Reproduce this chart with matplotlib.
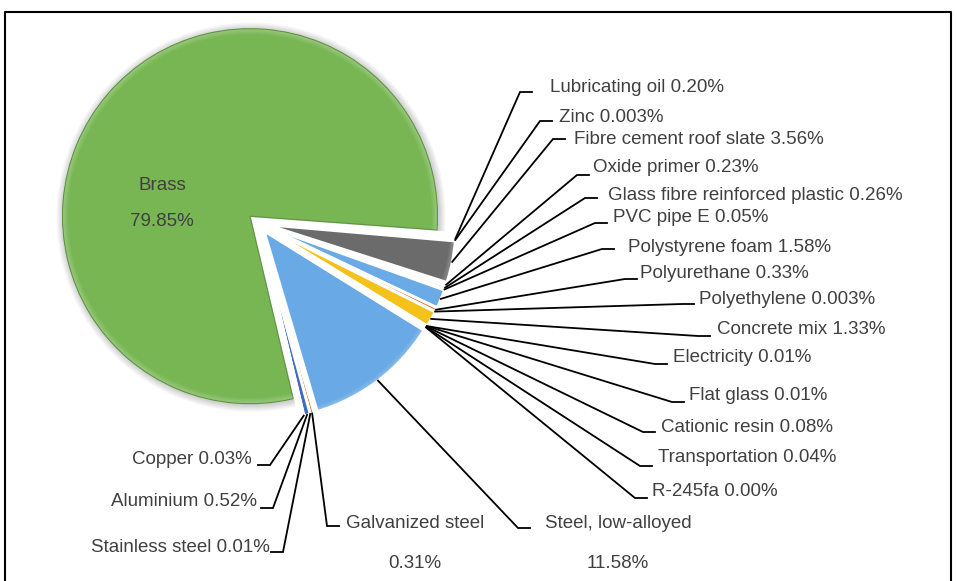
import matplotlib
matplotlib.use("Agg")
import matplotlib.pyplot as plt
import numpy as np
from matplotlib.patches import Wedge

# ---------------- data ----------------
categories = ["Brass", "Lubricating oil", "Zinc", "Fibre cement roof slate", "Oxide primer",
              "Glass fibre reinforced plastic", "PVC pipe E", "Polystyrene foam", "Polyurethane",
              "Polyethylene", "Concrete mix", "Electricity", "Flat glass", "Cationic resin",
              "Transportation", "R-245fa", "Steel, low-alloyed", "Galvanized steel",
              "Stainless steel", "Aluminium", "Copper"]
values = [79.85, 0.20, 0.003, 3.56, 0.23, 0.26, 0.05, 1.58, 0.33, 0.003, 1.33,
          0.01, 0.01, 0.08, 0.04, 0.00, 11.58, 0.31, 0.01, 0.52, 0.03]
value_labels = ["79.85%", "0.20%", "0.003%", "3.56%", "0.23%", "0.26%", "0.05%", "1.58%",
                "0.33%", "0.003%", "1.33%", "0.01%", "0.01%", "0.08%", "0.04%", "0.00%",
                "11.58%", "0.31%", "0.01%", "0.52%", "0.03%"]
colors = ["#78B653", "#D6D6D6", "#D6D6D6", "#6B6B6B", "#D9D9D9", "#DADADA", "#D6D6D6",
          "#6AAAE6", "#E07B39", "#ED7D31", "#F5C21B", "#D9D9D9", "#D9D9D9", "#D9D9D9",
          "#D9D9D9", "#D9D9D9", "#68A9E6", "#E07B39", "#A5A5A5", "#3F6CBF", "#3F6CBF"]

# ---------------- layout (pixels) ----------------
W, H = 957, 581
CX, CY, R = 258, 223, 187.5
EXPLODE = 10.5
# label text positions and leader elbows for slices 1..20
text_x = [550, 559, 574, 593, 608, 613, 628, 640, 699, 717, 673, 689, 661, 658, 652,
          618, 415, 270, 257, 252]
text_y = [88, 117, 140, 168, 195, 217, 247, 273, 300, 329, 357, 395, 427, 458, 492,
          524, 524, 548, 502, 460]
elbow_x = [520, 540, 553, 577, 585, 595, 602, 625, 682, 698, 655, 672, 643, 640, 635,
           518, 327, 283, 273, 270]
elbow_y = [92, 121, 139, 175, 198, 223, 249, 279, 304, 336, 364, 402, 432, 466, 498,
           528, 526, 552, 508, 465]
side = ["r"] * 17 + ["l"] * 3


def P(x, y):
    return x, H - y


fig = plt.figure(figsize=(W / 100, H / 100), dpi=100)
ax = fig.add_axes([0, 0, 1, 1])

explode = [EXPLODE] * len(values)
wedges, _ = ax.pie(values, colors=colors, startangle=283.3, counterclock=False,
                   center=P(CX, CY), radius=R, explode=explode,
                   wedgeprops=dict(edgecolor="white", linewidth=1.8))
wedges[0].set_edgecolor("#5E9440")
wedges[0].set_linewidth(0.8)

# soft shadow behind the brass slice
bw = wedges[0]
for k in range(8):
    sh = Wedge((bw.center[0] + 1, bw.center[1] - 1), bw.r + 1 + k * 0.9, bw.theta1, bw.theta2,
               facecolor="black", edgecolor="none", alpha=0.025, zorder=0)
    ax.add_patch(sh)
# lighter rim on big slices (bevel impression)
for i in (0, 3, 16):
    w = wedges[i]
    for k in range(5):
        rim = Wedge(w.center, w.r - 0.5, w.theta1, w.theta2, width=5 - k,
                    facecolor="white", edgecolor="none", alpha=0.05, zorder=w.get_zorder() + 0.1)
        ax.add_patch(rim)

ax.set_xlim(0, W)
ax.set_ylim(0, H)
ax.set_aspect("equal")
ax.axis("off")

font = dict(family=["Liberation Sans", "DejaVu Sans"], size=13.5, color="#404040")

# Brass label inside slice
ax.text(*P(162, 185), categories[0], ha="center", va="center", **font)
ax.text(*P(162, 222), value_labels[0], ha="center", va="center", **font)

for i in range(1, len(values)):
    w = wedges[i]
    mid = np.deg2rad((w.theta1 + w.theta2) / 2)
    cx, cy = w.center
    ax_pt = (cx + w.r * np.cos(mid), cy + w.r * np.sin(mid))
    k = i - 1
    ex, ey = P(elbow_x[k], elbow_y[k])
    seg = 12 if side[k] == "r" else -12
    ax.plot([ax_pt[0], ex, ex + seg], [ax_pt[1], ey, ey], color="black", lw=1.3,
            solid_joinstyle="miter", zorder=1)
    name = categories[i]
    if name in ("Steel, low-alloyed", "Galvanized steel"):
        ax.text(*P(text_x[k], text_y[k]), name, ha="center", va="center", **font)
        ax.text(*P(text_x[k], text_y[k] + 39), value_labels[i], ha="center", va="center", **font)
    elif side[k] == "r":
        ax.text(*P(text_x[k], text_y[k]), f"{name} {value_labels[i]}", ha="left",
                va="center", **font)
    else:
        ax.text(*P(text_x[k], text_y[k]), f"{name} {value_labels[i]}", ha="right",
                va="center", **font)

# chart frame (left, top, right)
ax.plot([5, 5, 951, 951], [0, H - 12, H - 12, 0], color="black", lw=1.5, zorder=0,
        clip_on=False)

fig.savefig("out.png", dpi=100)
